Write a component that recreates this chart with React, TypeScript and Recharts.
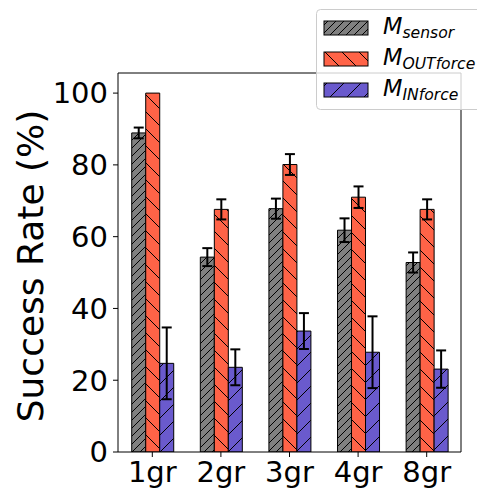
import React from 'react';
import { BarChart, Bar, XAxis, YAxis, ErrorBar } from 'recharts';

const categories = ['1gr', '2gr', '3gr', '4gr', '8gr'];
const sensorMean = [88.9, 54.3, 67.8, 61.8, 52.8];
const sensorErr = [1.5, 2.5, 2.8, 3.3, 2.8];
const outMean = [100, 67.6, 80.1, 71.0, 67.6];
const outErr = [0, 2.8, 2.9, 3.0, 2.8];
const inMean = [24.7, 23.6, 33.7, 27.8, 23.1];
const inErr = [10, 5, 5, 10, 5.2];
const yTicks = [0, 20, 40, 60, 80, 100];

const FONT = 'DejaVu Sans';
const GRAY = '#808080';
const TOMATO = '#ff6347';
const SLATE = '#6a5acd';

const data = categories.map((name, i) => ({
  name,
  sensor: sensorMean[i],
  sensorErr: sensorErr[i],
  out: outMean[i],
  outErr: outErr[i],
  inn: inMean[i],
  innErr: inErr[i],
}));

// hatch tile: '/' = forward, '\' = back
const Hatch = ({ id, color, step, fwd }: { id: string; color: string; step: number; fwd: boolean }) => {
  const s = step;
  const d = fwd
    ? `M0,${s} L${s},0 M-1,1 L1,-1 M${s - 1},${s + 1} L${s + 1},${s - 1}`
    : `M0,0 L${s},${s} M-1,${s - 1} L1,${s + 1} M${s - 1},-1 L${s + 1},1`;
  return (
    <pattern id={id} patternUnits="userSpaceOnUse" width={s} height={s}>
      <rect width={s} height={s} fill={color} />
      <path d={d} stroke="#000" strokeWidth={1} />
    </pattern>
  );
};

const Patterns = ({ prefix }: { prefix: string }) => (
  <defs>
    <Hatch id={`${prefix}Sensor`} color={GRAY} step={8} fwd />
    <Hatch id={`${prefix}Out`} color={TOMATO} step={17} fwd={false} />
    <Hatch id={`${prefix}In`} color={SLATE} step={17} fwd />
  </defs>
);

const legendRows = [
  { key: 'Sensor', main: 'M', sub: 'sensor' },
  { key: 'Out', main: 'M', sub: 'OUTforce' },
  { key: 'In', main: 'M', sub: 'INforce' },
];

const LegendBox = () => (
  <svg width={170} height={102} style={{ position: 'absolute', left: 316, top: 9 }}>
    <Patterns prefix="lg" />
    <rect x={0.5} y={0.5} width={175} height={100} rx={4} fill="#fff" fillOpacity={0.8} stroke="#ccc" />
    {legendRows.map((r, i) => (
      <g key={r.key}>
        <rect x={8} y={12 + i * 31} width={44} height={14} fill={`url(#lg${r.key})`} stroke="#000" />
        <text x={67} y={25 + i * 31} fontFamily={FONT} fontStyle="italic" fontSize={22.5} fill="#000">
          {r.main}
          <tspan dy={3.5} fontSize={15.6}>{r.sub}</tspan>
        </text>
      </g>
    ))}
  </svg>
);

const YLabel = () => (
  <text
    x={43}
    y={266}
    transform="rotate(-90, 43, 266)"
    textAnchor="middle"
    fontFamily={FONT}
    fontSize={36}
    fill="#000"
  >
    Success Rate (%)
  </text>
);

const tickStyle = { fontSize: 29, fill: '#000', fontFamily: FONT };

export default function App() {
  return (
    <div style={{ position: 'absolute', left: 0, top: 0, width: 477, height: 490, overflow: 'hidden', background: '#fff' }}>
      <BarChart
        width={477}
        height={490}
        data={data}
        margin={{ top: 72, right: 15, bottom: 0, left: 0 }}
        barCategoryGap="20%"
        barGap={0}
      >
        <Patterns prefix="h" />
        <XAxis
          dataKey="name"
          height={38}
          interval={0}
          tick={tickStyle}
          tickSize={5}
          tickMargin={4}
          axisLine={{ stroke: '#000' }}
          tickLine={{ stroke: '#000' }}
        />
        <XAxis xAxisId="top" orientation="top" dataKey="name" height={1} tick={false} tickLine={false} axisLine={{ stroke: '#000' }} />
        <YAxis
          domain={[0, 105.6]}
          ticks={yTicks}
          allowDataOverflow
          width={118}
          tick={tickStyle}
          tickSize={5}
          tickMargin={5}
          axisLine={{ stroke: '#000' }}
          tickLine={{ stroke: '#000' }}
          label={{ content: () => <YLabel /> }}
        />
        <YAxis yAxisId="right" orientation="right" domain={[0, 105.6]} width={1} tick={false} tickLine={false} axisLine={{ stroke: '#000' }} />
        <Bar dataKey="sensor" fill="url(#hSensor)" stroke="#000" strokeWidth={1} isAnimationActive={false}>
          <ErrorBar dataKey="sensorErr" width={5} strokeWidth={2} stroke="#000" />
        </Bar>
        <Bar dataKey="out" fill="url(#hOut)" stroke="#000" strokeWidth={1} isAnimationActive={false}>
          <ErrorBar dataKey="outErr" width={5} strokeWidth={2} stroke="#000" />
        </Bar>
        <Bar dataKey="inn" fill="url(#hIn)" stroke="#000" strokeWidth={1} isAnimationActive={false}>
          <ErrorBar dataKey="innErr" width={5} strokeWidth={2} stroke="#000" />
        </Bar>
      </BarChart>
      <LegendBox />
    </div>
  );
}
